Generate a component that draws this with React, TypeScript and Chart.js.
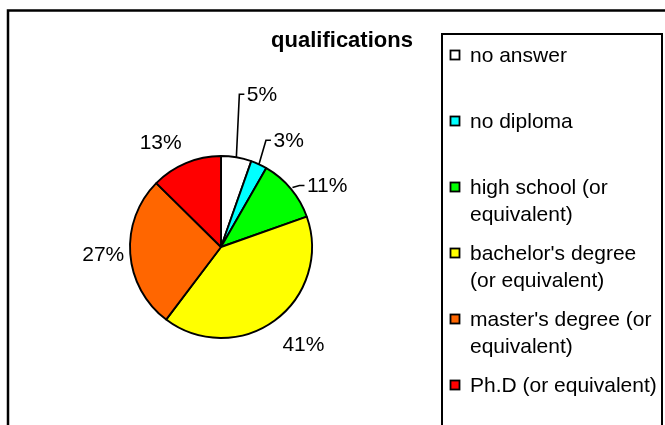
import React, { useEffect, useRef } from "react";
import { Chart, ArcElement, PieController } from "chart.js";

Chart.register(ArcElement, PieController);

const title = "qualifications";
const categories = [
  "no answer",
  "no diploma",
  "high school (or equivalent)",
  "bachelor's degree (or equivalent)",
  "master's degree (or equivalent)",
  "Ph.D (or equivalent)",
];
const legendLines = [
  ["no answer"],
  ["no diploma"],
  ["high school (or", "equivalent)"],
  ["bachelor's degree", "(or equivalent)"],
  ["master's degree (or", "equivalent)"],
  ["Ph.D (or equivalent)"],
];
const values = [5.4, 2.9, 11.3, 40.7, 27.1, 12.6];
const colors = ["#FFFFFF", "#00FFFF", "#00FF00", "#FFFF00", "#FF6600", "#FF0000"];

const FONT = '"Liberation Sans", Arial, sans-serif';

// label placement (layout only)
const labelLayout: any[] = [
  { leader: true, dx: 3, dy: -63, start: 0 },
  { leader: true, dx: 7, dy: -24, start: 0 },
  { leader: true, dx: 7, dy: -2, start: 2 },
  { leader: false, extra: 37, nudge: -3.9 },
  { leader: false, extra: 27, nudge: 0.2 },
  { leader: false, extra: 29, nudge: -7.5 },
];

const labelPlugin = {
  id: "pieLabels",
  afterDatasetsDraw(chart: any) {
    const ctx = chart.ctx;
    const meta = chart.getDatasetMeta(0);
    const total = values.reduce((a, b) => a + b, 0);
    ctx.save();
    ctx.font = `21px ${FONT}`;
    ctx.fillStyle = "#000";
    ctx.strokeStyle = "#000";
    ctx.lineWidth = 1.6;
    meta.data.forEach((arc: any, i: number) => {
      const { x, y, startAngle, endAngle, outerRadius } = arc.getProps(
        ["x", "y", "startAngle", "endAngle", "outerRadius"],
        true
      );
      const mid = (startAngle + endAngle) / 2;
      const text = Math.round((values[i] / total) * 100) + "%";
      const L = labelLayout[i];
      if (L.leader) {
        const r0 = outerRadius + (L.start || 0);
        const ex = x + Math.cos(mid) * r0;
        const ey = y + Math.sin(mid) * r0;
        const bx = ex + L.dx;
        const by = ey + L.dy;
        ctx.beginPath();
        ctx.moveTo(ex, ey);
        ctx.lineTo(bx, by);
        ctx.lineTo(bx + 5, by);
        ctx.stroke();
        ctx.textAlign = "left";
        ctx.textBaseline = "middle";
        ctx.fillText(text, bx + 7.5, by + 1);
      } else {
        const a = mid + (L.nudge * Math.PI) / 180;
        const r = outerRadius + L.extra;
        ctx.textAlign = "center";
        ctx.textBaseline = "middle";
        ctx.fillText(text, x + Math.cos(a) * r, y + Math.sin(a) * r);
      }
    });
    ctx.restore();
  },
};

const framePlugin = {
  id: "frame",
  beforeDraw(chart: any) {
    const ctx = chart.ctx;
    ctx.save();
    ctx.fillStyle = "#fff";
    ctx.fillRect(0, 0, chart.width, chart.height);
    ctx.restore();
  },
  afterDraw(chart: any) {
    const ctx = chart.ctx;
    ctx.save();
    // outer chart border
    ctx.strokeStyle = "#000";
    ctx.lineWidth = 2.5;
    ctx.strokeRect(8, 10.5, 800, 600);
    // title
    ctx.fillStyle = "#000";
    ctx.font = `bold 22px ${FONT}`;
    ctx.textAlign = "center";
    ctx.textBaseline = "alphabetic";
    ctx.fillText(title, 342, 47);
    // legend box
    ctx.lineWidth = 2;
    ctx.strokeRect(442, 34, 220, 500);
    ctx.font = `21px ${FONT}`;
    ctx.textAlign = "left";
    ctx.textBaseline = "middle";
    legendLines.forEach((lines, i) => {
      const cy = 55 + i * 66;
      ctx.fillStyle = colors[i];
      ctx.fillRect(450.5, cy - 4.5, 9, 9);
      ctx.lineWidth = 1.8;
      ctx.strokeStyle = "#000";
      ctx.strokeRect(450.5, cy - 4.5, 9, 9);
      ctx.fillStyle = "#000";
      lines.forEach((ln, j) => {
        ctx.fillText(ln, 470, cy + 1 + j * 27);
      });
    });
    ctx.restore();
  },
};

export default function App() {
  const ref = useRef<HTMLCanvasElement | null>(null);
  useEffect(() => {
    if (!ref.current) return;
    const chart = new Chart(ref.current, {
      type: "pie",
      data: {
        labels: categories,
        datasets: [
          {
            data: values,
            backgroundColor: colors,
            borderColor: "#000",
            borderWidth: 1.9,
            hoverOffset: 0,
          },
        ],
      },
      options: {
        animation: false,
        responsive: false,
        radius: 91,
        layout: { padding: { left: 71, right: 294, top: 97, bottom: 28 } },
        events: [],
        plugins: {},
      } as any,
      plugins: [framePlugin, labelPlugin],
    });
    return () => chart.destroy();
  }, []);
  return (
    <div style={{ position: "fixed", left: 0, top: 0, width: 665, height: 425, background: "#fff" }}>
      <canvas ref={ref} width={665} height={425} style={{ display: "block" }} />
    </div>
  );
}
